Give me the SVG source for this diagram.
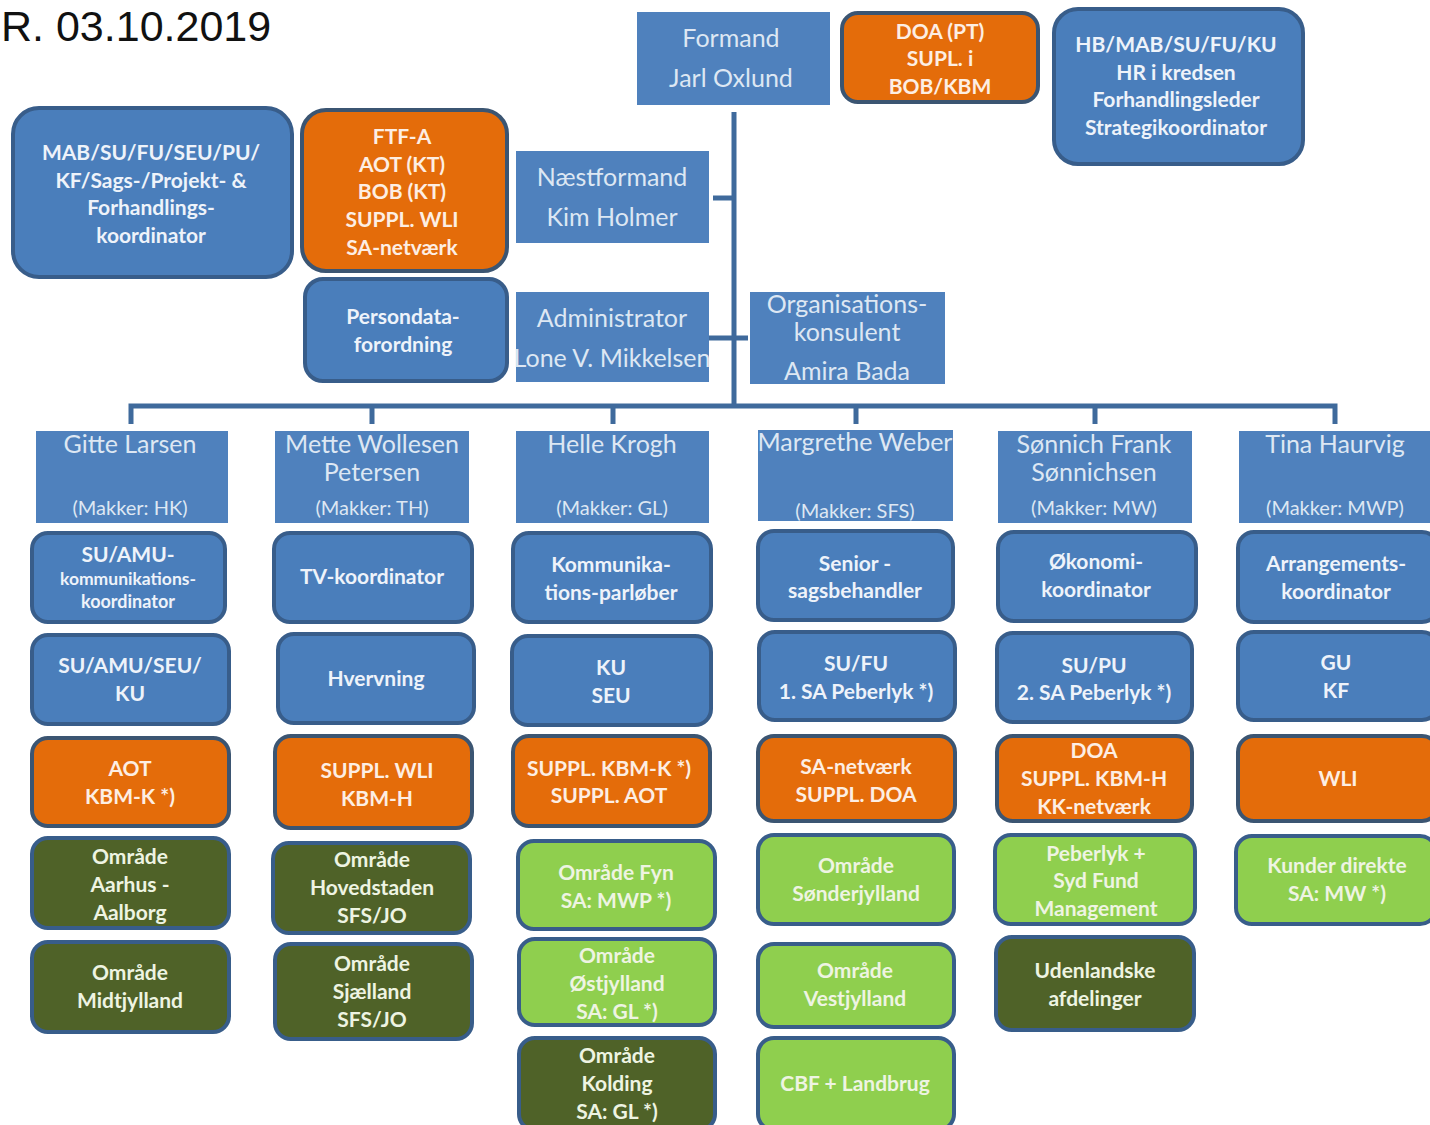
<svg xmlns="http://www.w3.org/2000/svg" width="1430" height="1125" viewBox="0 0 1430 1125">
<style>
.bg{fill:#ffffff}
.nm{fill:#4f81bd}
.b{fill:#4a7ebb;stroke:#385d8a;stroke-width:4}
.o{fill:#e46c0a;stroke:#3b5572;stroke-width:4}
.dg{fill:#4f6228;stroke:#385d8a;stroke-width:4}
.lg{fill:#8fcf4e;stroke:#385d8a;stroke-width:4}
text{font-family:Lato,"Open Sans","Liberation Sans",sans-serif;text-anchor:middle;dominant-baseline:central}
.t{font-weight:bold;font-size:21px;fill:#eef3fa}
.to{font-weight:bold;font-size:21px;fill:#fdeee3}
.tg{font-weight:bold;font-size:21px;fill:#eef4e2}
.h{font-size:25px;fill:#dde7f3}
.m{font-size:20px;fill:#dde7f3}
.title{font-family:"Liberation Sans",Arial,sans-serif;font-size:43px;fill:#111;text-anchor:start;dominant-baseline:auto}
.c{stroke:#3f6a9c;stroke-width:5;fill:none}
</style>
<rect class="bg" x="0" y="0" width="1430" height="1125"/>
<text class="title" x="1" y="41">R. 03.10.2019</text>

<g id="connectors">
<path class="c" d="M734 112 V406"/>
<path class="c" d="M713 198 H734"/>
<path class="c" d="M708 338 H748"/>
<path class="c" d="M131 424 V406 H1335 V424"/>
<path class="c" d="M372 406 V424 M613 406 V424 M856 406 V424 M1095 406 V424"/>
</g>

<g id="formand"><rect class="nm" x="637" y="12" width="193" height="93"/><text class="h" x="731" y="37">Formand</text><text class="h" x="731" y="77">Jarl Oxlund</text></g>
<g id="doa-pt"><rect class="o" x="842" y="13" width="196" height="89" rx="16"/><text class="to" x="940" y="30">DOA (PT)</text><text class="to" x="940" y="57">SUPL. i</text><text class="to" x="940" y="85">BOB/KBM</text></g>
<g id="hb-mab"><rect class="b" x="1054" y="9" width="249" height="155" rx="24"/><text class="t" x="1176" y="43">HB/MAB/SU/FU/KU</text><text class="t" x="1176" y="71">HR i kredsen</text><text class="t" x="1176" y="98">Forhandlingsleder</text><text class="t" x="1176" y="126">Strategikoordinator</text></g>
<g id="mab-su"><rect class="b" x="13" y="108" width="279" height="169" rx="26"/><text class="t" x="151" y="151">MAB/SU/FU/SEU/PU/</text><text class="t" x="151" y="179">KF/Sags-/Projekt- &amp;</text><text class="t" x="151" y="206">Forhandlings-</text><text class="t" x="151" y="234">koordinator</text></g>
<g id="ftf-a"><rect class="o" x="302" y="110" width="205" height="161" rx="24"/><text class="to" x="402" y="135">FTF-A</text><text class="to" x="402" y="163">AOT (KT)</text><text class="to" x="402" y="190">BOB (KT)</text><text class="to" x="402" y="218">SUPPL. WLI</text><text class="to" x="402" y="246">SA-netværk</text></g>
<g id="naestformand"><rect class="nm" x="516" y="151" width="193" height="92"/><text class="h" x="612" y="176">Næstformand</text><text class="h" x="612" y="216">Kim Holmer</text></g>
<g id="persondata"><rect class="b" x="305" y="279" width="202" height="102" rx="18"/><text class="t" x="403" y="315">Persondata-</text><text class="t" x="403" y="343">forordning</text></g>
<g id="administrator"><rect class="nm" x="516" y="292" width="193" height="90"/><text class="h" x="612" y="317">Administrator</text><text class="h" x="612" y="357">Lone V. Mikkelsen</text></g>
<g id="org-konsulent"><rect class="nm" x="750" y="292" width="195" height="92"/><text class="h" x="847" y="303">Organisations-</text><text class="h" x="847" y="331">konsulent</text><text class="h" x="847" y="370">Amira Bada</text></g>

<g id="gitte"><rect class="nm" x="36" y="431" width="192" height="92"/><text class="h" x="130" y="443">Gitte Larsen</text><text class="m" x="130" y="507">(Makker: HK)</text></g>
<g id="mette"><rect class="nm" x="275" y="431" width="194" height="92"/><text class="h" x="372" y="443">Mette Wollesen</text><text class="h" x="372" y="471">Petersen</text><text class="m" x="372" y="507">(Makker: TH)</text></g>
<g id="helle"><rect class="nm" x="516" y="431" width="193" height="92"/><text class="h" x="612" y="443">Helle Krogh</text><text class="m" x="612" y="507">(Makker: GL)</text></g>
<g id="margrethe"><rect class="nm" x="758" y="430" width="195" height="91"/><text class="h" x="855" y="441">Margrethe Weber</text><text class="m" x="855" y="510">(Makker: SFS)</text></g>
<g id="soennich"><rect class="nm" x="998" y="431" width="194" height="92"/><text class="h" x="1094" y="443">Sønnich Frank</text><text class="h" x="1094" y="471">Sønnichsen</text><text class="m" x="1094" y="507">(Makker: MW)</text></g>
<g id="tina"><rect class="nm" x="1239" y="431" width="195" height="92"/><text class="h" x="1335" y="443">Tina Haurvig</text><text class="m" x="1335" y="507">(Makker: MWP)</text></g>

<g id="g1"><rect class="b" x="32" y="533" width="193" height="89" rx="16"/><text class="t" x="128" y="553">SU/AMU-</text><text class="t" x="128" y="578" style="font-size:17.5px">kommunikations-</text><text class="t" x="128" y="601" style="font-size:18px">koordinator</text></g>
<g id="g2"><rect class="b" x="32" y="635" width="197" height="89" rx="16"/><text class="t" x="130" y="664">SU/AMU/SEU/</text><text class="t" x="130" y="692">KU</text></g>
<g id="g3"><rect class="o" x="32" y="738" width="197" height="88" rx="16"/><text class="to" x="130" y="767">AOT</text><text class="to" x="130" y="795">KBM-K  *)</text></g>
<g id="g4"><rect class="dg" x="32" y="838" width="197" height="90" rx="16"/><text class="tg" x="130" y="855">Område</text><text class="tg" x="130" y="883">Aarhus -</text><text class="tg" x="130" y="911">Aalborg</text></g>
<g id="g5"><rect class="dg" x="32" y="942" width="197" height="90" rx="16"/><text class="tg" x="130" y="971">Område</text><text class="tg" x="130" y="999">Midtjylland</text></g>

<g id="m1"><rect class="b" x="274" y="533" width="198" height="89" rx="16"/><text class="t" x="372" y="575">TV-koordinator</text></g>
<g id="m2"><rect class="b" x="278" y="634" width="196" height="89" rx="16"/><text class="t" x="376" y="677">Hvervning</text></g>
<g id="m3"><rect class="o" x="275" y="736" width="197" height="92" rx="16"/><text class="to" x="377" y="769">SUPPL. WLI</text><text class="to" x="377" y="797">KBM-H</text></g>
<g id="m4"><rect class="dg" x="273" y="843" width="197" height="90" rx="16"/><text class="tg" x="372" y="858">Område</text><text class="tg" x="372" y="886">Hovedstaden</text><text class="tg" x="372" y="914">SFS/JO</text></g>
<g id="m5"><rect class="dg" x="275" y="944" width="197" height="95" rx="16"/><text class="tg" x="372" y="962">Område</text><text class="tg" x="372" y="990">Sjælland</text><text class="tg" x="372" y="1018">SFS/JO</text></g>

<g id="h1"><rect class="b" x="513" y="533" width="198" height="89" rx="16"/><text class="t" x="611" y="563">Kommunika-</text><text class="t" x="611" y="591">tions-parløber</text></g>
<g id="h2"><rect class="b" x="512" y="636" width="199" height="89" rx="16"/><text class="t" x="611" y="666">KU</text><text class="t" x="611" y="694">SEU</text></g>
<g id="h3"><rect class="o" x="513" y="736" width="197" height="90" rx="16"/><text class="to" x="609" y="767">SUPPL. KBM-K *)</text><text class="to" x="609" y="794">SUPPL. AOT</text></g>
<g id="h4"><rect class="lg" x="518" y="841" width="197" height="88" rx="16"/><text class="tg" x="616" y="871">Område Fyn</text><text class="tg" x="616" y="899">SA: MWP *)</text></g>
<g id="h5"><rect class="lg" x="519" y="939" width="196" height="86" rx="16"/><text class="tg" x="617" y="954">Område</text><text class="tg" x="617" y="982">Østjylland</text><text class="tg" x="617" y="1010">SA: GL *)</text></g>
<g id="h6"><rect class="dg" x="519" y="1038" width="196" height="92" rx="16"/><text class="tg" x="617" y="1054">Område</text><text class="tg" x="617" y="1082">Kolding</text><text class="tg" x="617" y="1110">SA: GL *)</text></g>

<g id="w1"><rect class="b" x="758" y="531" width="195" height="89" rx="16"/><text class="t" x="855" y="562">Senior -</text><text class="t" x="855" y="589">sagsbehandler</text></g>
<g id="w2"><rect class="b" x="759" y="632" width="196" height="88" rx="16"/><text class="t" x="856" y="662">SU/FU</text><text class="t" x="856" y="690">1. SA Peberlyk  *)</text></g>
<g id="w3"><rect class="o" x="758" y="736" width="197" height="85" rx="16"/><text class="to" x="856" y="765">SA-netværk</text><text class="to" x="856" y="793">SUPPL. DOA</text></g>
<g id="w4"><rect class="lg" x="758" y="835" width="196" height="89" rx="16"/><text class="tg" x="856" y="864">Område</text><text class="tg" x="856" y="892">Sønderjylland</text></g>
<g id="w5"><rect class="lg" x="758" y="944" width="196" height="83" rx="16"/><text class="tg" x="855" y="969">Område</text><text class="tg" x="855" y="997">Vestjylland</text></g>
<g id="w6"><rect class="lg" x="758" y="1038" width="196" height="92" rx="16"/><text class="tg" x="855" y="1082">CBF + Landbrug</text></g>

<g id="s1"><rect class="b" x="998" y="532" width="198" height="89" rx="16"/><text class="t" x="1096" y="560">Økonomi-</text><text class="t" x="1096" y="588">koordinator</text></g>
<g id="s2"><rect class="b" x="997" y="633" width="195" height="89" rx="16"/><text class="t" x="1094" y="664">SU/PU</text><text class="t" x="1094" y="691">2. SA Peberlyk  *)</text></g>
<g id="s3"><rect class="o" x="997" y="736" width="195" height="85" rx="16"/><text class="to" x="1094" y="749">DOA</text><text class="to" x="1094" y="777">SUPPL. KBM-H</text><text class="to" x="1094" y="805">KK-netværk</text></g>
<g id="s4"><rect class="lg" x="995" y="835" width="200" height="89" rx="16"/><text class="tg" x="1096" y="852">Peberlyk +</text><text class="tg" x="1096" y="879">Syd Fund</text><text class="tg" x="1096" y="907">Management</text></g>
<g id="s5"><rect class="dg" x="996" y="937" width="198" height="93" rx="16"/><text class="tg" x="1095" y="969">Udenlandske</text><text class="tg" x="1095" y="997">afdelinger</text></g>

<g id="t1"><rect class="b" x="1238" y="532" width="200" height="90" rx="16"/><text class="t" x="1336" y="562">Arrangements-</text><text class="t" x="1336" y="590">koordinator</text></g>
<g id="t2"><rect class="b" x="1238" y="632" width="200" height="88" rx="16"/><text class="t" x="1336" y="661">GU</text><text class="t" x="1336" y="689">KF</text></g>
<g id="t3"><rect class="o" x="1238" y="736" width="200" height="85" rx="16"/><text class="to" x="1338" y="777">WLI</text></g>
<g id="t4"><rect class="lg" x="1236" y="836" width="200" height="88" rx="16"/><text class="tg" x="1337" y="864">Kunder direkte</text><text class="tg" x="1337" y="892">SA: MW *)</text></g>
</svg>
